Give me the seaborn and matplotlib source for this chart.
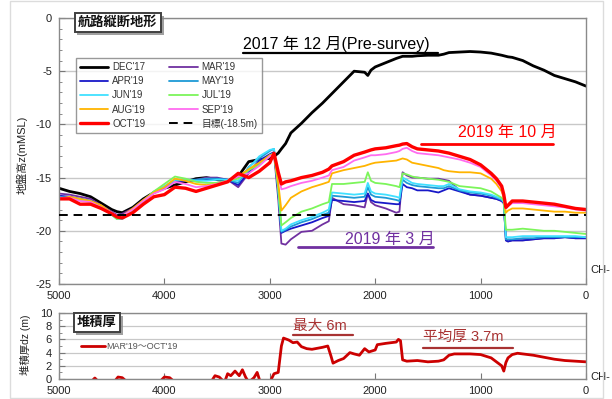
import numpy as np
import pandas as pd
import matplotlib
matplotlib.use("Agg")
import matplotlib.pyplot as plt
import matplotlib.patheffects as pe
from matplotlib.lines import Line2D
from matplotlib.patches import Rectangle
from matplotlib.ticker import MultipleLocator
import seaborn as sns

# ---------------- data ----------------
X = [5000, 4900, 4800, 4700, 4600, 4500, 4450, 4400, 4300, 4200,
     4100, 4000, 3900, 3800, 3700, 3600, 3500, 3400, 3300, 3200,
     3100, 3000, 2960, 2920, 2890, 2850, 2800, 2700, 2600, 2500,
     2440, 2410, 2300, 2200, 2100, 2070, 2040, 2000, 1900, 1800,
     1770, 1740, 1700, 1650, 1600, 1500, 1400, 1350, 1300, 1200,
     1100, 1000, 900, 850, 800, 780, 760, 740, 700, 600,
     500, 400, 300, 200, 100, 0]

DEC17 = [-16.0, -16.3, -16.5, -16.8, -17.4, -18.0, -18.2, -18.3, -17.8, -17.0,
         -16.4, -16.0, -15.7, -15.4, -15.1, -15.0, -15.2, -15.3, -14.9, -13.5,
         -13.3, -13.2, -13.0, -12.7, -12.3, -11.8, -10.8, -9.9, -8.9, -8.0,
         -7.4, -7.1, -6.0, -5.0, -5.1, -5.4, -4.9, -4.6, -4.2, -3.8,
         -3.7, -3.6, -3.6, -3.6, -3.55, -3.5, -3.5, -3.4, -3.25, -3.2,
         -3.15, -3.2, -3.3, -3.4, -3.5, -3.55, -3.6, -3.65, -3.7, -4.0,
         -4.5, -4.9, -5.4, -5.7, -6.0, -6.4]

MAR19 = [-16.5, -16.6, -16.8, -17.0, -17.6, -18.2, -18.5, -18.4, -17.9, -17.1,
         -16.4, -15.9, -15.4, -15.3, -15.2, -15.0, -15.0, -15.2, -15.9, -14.6,
         -13.6, -13.0, -12.8, -17.0, -21.2, -21.3, -20.8, -20.1, -20.0, -19.4,
         -19.1, -16.9, -17.5, -17.6, -17.8, -16.5, -17.3, -17.6, -17.9, -18.3,
         -18.2, -14.5, -14.8, -15.0, -15.0, -15.1, -15.1, -15.2, -15.3, -16.2,
         -16.6, -16.7, -16.9, -17.0, -17.2, -17.4, -20.9, -21.0, -20.9, -20.9,
         -20.8, -20.7, -20.7, -20.6, -20.7, -20.7]

APR19 = [-16.7, -16.8, -17.0, -17.2, -17.7, -18.4, -18.7, -18.6, -18.0, -17.2,
         -16.4, -15.9, -15.3, -15.3, -15.3, -15.2, -15.1, -15.2, -15.7, -14.5,
         -13.4, -12.8, -12.6, -16.3, -20.2, -20.0, -19.8, -19.5, -19.2, -18.8,
         -18.6, -17.1, -17.2, -17.3, -17.2, -16.5, -17.1, -17.3, -17.4, -17.5,
         -17.5, -15.6, -15.9, -16.0, -16.2, -16.2, -16.4, -16.2, -16.0, -16.3,
         -16.6, -16.7, -16.9, -17.0, -17.2, -17.4, -20.9, -21.0, -20.9, -20.9,
         -20.8, -20.7, -20.7, -20.6, -20.7, -20.7]

MAY19 = [-16.8, -16.9, -17.0, -17.2, -17.7, -18.4, -18.8, -18.7, -18.0, -17.2,
         -16.4, -15.9, -15.3, -15.2, -15.2, -15.1, -15.1, -15.2, -15.5, -14.0,
         -13.2, -12.5, -12.3, -16.2, -20.1, -19.9, -19.6, -19.2, -18.9, -18.5,
         -18.3, -16.7, -16.8, -16.9, -16.8, -15.9, -16.6, -16.8, -16.9, -17.1,
         -17.2, -15.2, -15.5, -15.7, -15.8, -15.9, -16.0, -16.0, -15.8, -16.2,
         -16.4, -16.5, -16.7, -16.9, -17.1, -17.3, -20.8, -20.8, -20.8, -20.7,
         -20.7, -20.6, -20.6, -20.6, -20.6, -20.6]

JUN19 = [-16.9, -17.0, -17.1, -17.2, -17.7, -18.5, -18.9, -18.9, -18.1, -17.2,
         -16.3, -15.8, -15.2, -15.2, -15.3, -15.3, -15.2, -15.2, -15.3, -14.1,
         -13.0, -12.4, -12.3, -16.0, -20.0, -19.8, -19.4, -19.0, -18.7, -18.3,
         -18.0, -16.4, -16.5, -16.6, -16.5, -15.5, -16.3, -16.5, -16.6, -16.8,
         -16.9, -15.0, -15.2, -15.5, -15.6, -15.7, -15.8, -15.8, -15.6, -16.1,
         -16.3, -16.4, -16.6, -16.8, -17.0, -17.3, -20.6, -20.6, -20.6, -20.5,
         -20.5, -20.5, -20.5, -20.5, -20.5, -20.6]

JUL19 = [-17.0, -17.0, -17.1, -17.3, -17.8, -18.5, -18.9, -18.8, -18.0, -17.2,
         -16.3, -15.6, -14.9, -15.1, -15.4, -15.5, -15.5, -15.3, -15.1, -14.3,
         -13.8, -12.9, -12.7, -16.0, -19.5, -19.2, -18.8, -18.2, -17.9, -17.5,
         -17.3, -15.6, -15.6, -15.5, -15.4, -14.5, -15.3, -15.5, -15.6, -15.8,
         -15.9, -14.6, -14.7, -14.9, -15.0, -15.1, -15.2, -15.3, -15.4, -15.8,
         -15.9, -16.0, -16.3, -16.6, -16.9, -17.2, -19.9, -19.9, -19.9, -19.8,
         -19.9, -20.0, -20.0, -20.1, -20.2, -20.3]

AUG19 = [-17.0, -16.8, -17.0, -17.2, -17.6, -18.3, -18.7, -18.6, -17.9, -17.1,
         -16.4, -15.9, -15.1, -15.3, -15.6, -15.7, -15.6, -15.3, -14.9, -14.2,
         -13.6, -12.9, -12.8, -15.5, -18.1, -17.6, -16.9, -16.3, -15.9, -15.6,
         -15.4, -14.6, -14.3, -14.1, -13.9, -13.8, -13.7, -13.6, -13.5, -13.4,
         -13.3, -13.2, -13.3, -13.6, -13.7, -13.9, -14.1, -14.3, -14.4, -14.5,
         -14.5, -14.6, -15.1, -15.6, -16.3, -16.9, -18.3, -18.1, -17.9, -17.9,
         -18.0, -18.1, -18.2, -18.2, -18.3, -18.3]

SEP19 = [-16.9, -16.9, -17.2, -17.3, -17.8, -18.3, -18.6, -18.6, -18.0, -17.2,
         -16.5, -16.1, -15.4, -15.6, -15.9, -15.8, -15.6, -15.3, -14.9, -14.6,
         -13.9, -13.0, -12.8, -14.6, -16.1, -16.0, -15.8, -15.5, -15.3, -15.0,
         -14.8, -14.3, -14.0, -13.4, -13.1, -13.0, -12.9, -12.9, -12.8, -12.6,
         -12.5, -12.3, -12.2, -12.5, -12.7, -12.8, -12.9, -13.0, -13.1, -13.3,
         -13.6, -14.0, -14.8, -15.3, -16.0, -16.8, -17.9, -17.7, -17.4, -17.4,
         -17.5, -17.6, -17.7, -17.8, -18.0, -18.1]

OCT19 = [-17.0, -17.0, -17.5, -17.5, -17.9, -18.4, -18.7, -18.8, -18.3, -17.5,
         -16.8, -16.6, -15.9, -16.0, -16.3, -16.0, -15.7, -15.4, -14.6, -15.0,
         -14.4, -13.6, -12.7, -14.5, -15.6, -15.4, -15.3, -15.0, -14.8, -14.5,
         -14.2, -13.9, -13.5, -12.9, -12.6, -12.5, -12.4, -12.3, -12.2, -12.0,
         -11.95, -11.85, -11.8, -12.1, -12.3, -12.4, -12.5, -12.6, -12.7, -13.0,
         -13.3, -13.8, -14.6, -15.1, -15.8, -16.6, -17.8, -17.6, -17.2, -17.2,
         -17.3, -17.4, -17.5, -17.7, -17.9, -18.0]

TARGET = -18.5

TX = [5000, 4700, 4660, 4620, 4480, 4440, 4400, 4350, 4050, 4000,
      3950, 3900, 3560, 3520, 3480, 3430, 3400, 3370, 3330, 3290,
      3260, 3230, 3200, 3150, 3120, 3090, 3000, 2960, 2920, 2890,
      2870, 2820, 2780, 2740, 2700, 2650, 2600, 2500, 2450, 2420,
      2400, 2350, 2300, 2240, 2200, 2150, 2100, 2060, 2000, 1980,
      1900, 1850, 1800, 1780, 1760, 1740, 1700, 1600, 1500, 1400,
      1350, 1300, 1250, 1200, 1100, 1000, 900, 850, 800, 780,
      760, 740, 700, 650, 600, 500, 400, 300, 200, 100, 0]
THICK = [-0.5, -0.5, 0.15, -0.5, -0.5, 0.3, 0.2, -0.5, -0.5, 0.3,
         0.2, -0.5, -0.5, 0.5, 0.3, -0.5, 0.8, 0.5, 1.2, 0.5,
         1.4, 0.3, -0.5, 0.2, 1.0, -0.5, -0.5, 0.8, 1.0, 5.0,
         6.2, 5.9, 5.5, 5.6, 4.9, 4.6, 4.5, 4.8, 5.0, 3.5,
         2.4, 2.8, 3.1, 4.0, 3.8, 3.6, 4.6, 4.1, 4.4, 5.2,
         5.4, 5.5, 5.6, 6.0, 5.8, 2.9, 2.7, 2.8, 2.6, 2.7,
         2.9, 3.6, 3.8, 3.8, 3.8, 3.7, 3.2, 2.6, 2.0, 1.2,
         2.5, 3.2, 3.7, 3.9, 3.8, 3.6, 3.3, 3.0, 2.8, 2.7, 2.6]

X_TICKS = [5000, 4000, 3000, 2000, 1000, 0]
Y_TICKS = [0, -5, -10, -15, -20, -25]
T_TICKS = [0, 2, 4, 6, 8, 10]

# ---------------- style ----------------
sns.set_theme(style="white")
plt.rcParams['font.family'] = ['Liberation Sans', 'Noto Sans CJK JP', 'DejaVu Sans']
plt.rcParams['axes.unicode_minus'] = False

fig = plt.figure(figsize=(6.12, 3.99), dpi=100)
fig.patches.append(Rectangle((10 / 612, 1 / 399), 593 / 612, 397 / 399,
                             transform=fig.transFigure, fill=False,
                             ec='#dcdcdc', lw=1.0))
ax1 = fig.add_axes([59 / 612, 1 - 284 / 399, 527 / 612, 266 / 399])
ax2 = fig.add_axes([59 / 612, 1 - 379 / 399, 527 / 612, 66 / 399])

series = [
    ("DEC'17", DEC17, "#000000", 2.0),
    ("MAR'19", MAR19, "#7030a0", 1.3),
    ("APR'19", APR19, "#1818c8", 1.3),
    ("MAY'19", MAY19, "#1e9ad6", 1.3),
    ("JUN'19", JUN19, "#40e0ff", 1.3),
    ("JUL'19", JUL19, "#7cf55a", 1.3),
    ("AUG'19", AUG19, "#ffb400", 1.3),
    ("SEP'19", SEP19, "#ff6cf0", 1.3),
    ("OCT'19", OCT19, "#ff0000", 2.4),
]

handles = {}
for name, vals, col, lw in series:
    df = pd.DataFrame({"CH": X, "z": vals})
    sns.lineplot(data=df, x="CH", y="z", ax=ax1, color=col, linewidth=lw,
                 estimator=None, legend=False)
    handles[name] = Line2D([], [], color=col, lw=lw)

ax1.axhline(TARGET, color='black', lw=1.4, dashes=(4.5, 3), zorder=5)
handles["目標(-18.5m)"] = Line2D([], [], color='black', lw=1.4, dashes=(4.5, 3))

ax1.set_xlim(5000, 0)
ax1.set_ylim(-25, 0)
ax1.set_xticks(X_TICKS)
ax1.set_xticklabels([str(t) for t in X_TICKS])
ax1.set_yticks(Y_TICKS)
ax1.set_yticklabels([str(t) for t in Y_TICKS])
ax1.yaxis.set_minor_locator(MultipleLocator(1))
ax1.set_xlabel("")
ax1.set_ylabel("")
ax1.yaxis.grid(True, which='major', color='#c8c8c8', lw=1.0)
ax1.set_axisbelow(True)

for ax in (ax1, ax2):
    for s in ax.spines.values():
        s.set_color('#8a8a8a')
        s.set_linewidth(1.0)
    ax.tick_params(axis='both', which='major', direction='in', length=4,
                   width=0.8, color='#777777', labelsize=8, labelcolor='#222222', pad=5,
                   bottom=True, left=True)
    ax.tick_params(axis='y', which='minor', direction='in', length=2,
                   width=0.6, color='#777777', left=True)

order = ["DEC'17", "APR'19", "JUN'19", "AUG'19", "OCT'19",
         "MAR'19", "MAY'19", "JUL'19", "SEP'19", "目標(-18.5m)"]
leg = ax1.legend([handles[k] for k in order], order, ncol=2, loc='upper left',
                 bbox_to_anchor=(0.032, 0.85), borderaxespad=0, fontsize=7,
                 frameon=True, fancybox=False, edgecolor='#808080',
                 handlelength=2.9, columnspacing=2.4, labelspacing=0.42,
                 borderpad=0.45, handletextpad=0.4)
leg.get_frame().set_linewidth(1.0)
for t in leg.get_texts():
    t.set_color('#333333')


def title_box(ax, x, y, text):
    t = ax.text(x, y, text, transform=ax.transAxes, fontsize=9.5, fontweight='bold',
                ha='left', va='center', color='#111111', zorder=10,
                bbox=dict(boxstyle='square,pad=0.25', fc='white', ec='#404040', lw=1.4))
    t.get_bbox_patch().set_path_effects([
        pe.SimplePatchShadow(offset=(2, -2), shadow_rgbFace='#888888', alpha=0.8),
        pe.Normal()])
    return t


title_box(ax1, 0.036, 0.983, "航路縦断地形")

# annotations top
ax1.text(0.349, 0.902, "2017 年 12 月(Pre-survey)", transform=ax1.transAxes,
         fontsize=11.5, ha='left', va='center', color='black')
ax1.plot([0.349, 0.719], [0.868, 0.868], transform=ax1.transAxes,
         color='black', lw=1.6, clip_on=False)
ax1.text(0.757, 0.568, "2019 年 10 月", transform=ax1.transAxes,
         fontsize=11.5, ha='left', va='center', color='#ff0000')
ax1.plot([0.687, 0.937], [0.528, 0.528], transform=ax1.transAxes,
         color='#ff0000', lw=2.0)
ax1.text(0.543, 0.169, "2019 年 3 月", transform=ax1.transAxes,
         fontsize=11.5, ha='left', va='center', color='#7030a0')
ax1.plot([0.4535, 0.7097], [0.139, 0.139], transform=ax1.transAxes,
         color='#7030a0', lw=2.0)
ax1.text(1.008, 0.053, "CH-", transform=ax1.transAxes, fontsize=8,
         ha='left', va='center', color='#222222')

# ---------------- bottom panel ----------------
dft = pd.DataFrame({"CH": TX, "dz": THICK})
sns.lineplot(data=dft, x="CH", y="dz", ax=ax2, color='#cc0000', linewidth=2.0,
             estimator=None, legend=False)
ax2.set_xlim(5000, 0)
ax2.set_ylim(0, 10)
ax2.set_xticks(X_TICKS)
ax2.set_xticklabels([str(t) for t in X_TICKS])
ax2.set_yticks(T_TICKS)
ax2.set_yticklabels([str(t) for t in T_TICKS])
ax2.yaxis.set_minor_locator(MultipleLocator(1))
ax2.set_xlabel("")
ax2.set_ylabel("")
ax2.yaxis.grid(True, which='major', color='#c8c8c8', lw=0.9)
ax2.set_axisbelow(True)

leg2 = ax2.legend([Line2D([], [], color='#cc0000', lw=2.0)], ["MAR'19～OCT'19"],
                  loc='center left', bbox_to_anchor=(0.035, 0.485), borderaxespad=0,
                  fontsize=6.5, frameon=False, handlelength=2.6, handletextpad=0.2)
for t in leg2.get_texts():
    t.set_color('#555555')

title_box(ax2, 0.034, 0.856, "堆積厚")

ax2.text(0.444, 0.80, "最大 6m", transform=ax2.transAxes, fontsize=10.5,
         ha='left', va='center', color='#a83232')
ax2.plot([0.444, 0.558], [0.667, 0.667], transform=ax2.transAxes,
         color='#a83232', lw=1.6)
ax2.text(0.691, 0.63, "平均厚 3.7m", transform=ax2.transAxes, fontsize=10.5,
         ha='left', va='center', color='#a83232')
ax2.plot([0.691, 0.861], [0.47, 0.47], transform=ax2.transAxes,
         color='#a83232', lw=1.6)
ax2.text(1.008, 0.03, "CH-", transform=ax2.transAxes, fontsize=8,
         ha='left', va='center', color='#222222')

fig.text(22 / 612, 1 - 155 / 399, "地盤高z(mMSL)", rotation=90, fontsize=8,
         ha='center', va='center', color='#222222')
fig.text(25 / 612, 1 - 345 / 399, "堆積厚dz (m)", rotation=90, fontsize=7.5,
         ha='center', va='center', color='#222222')

fig.savefig("out.png", dpi=100)
